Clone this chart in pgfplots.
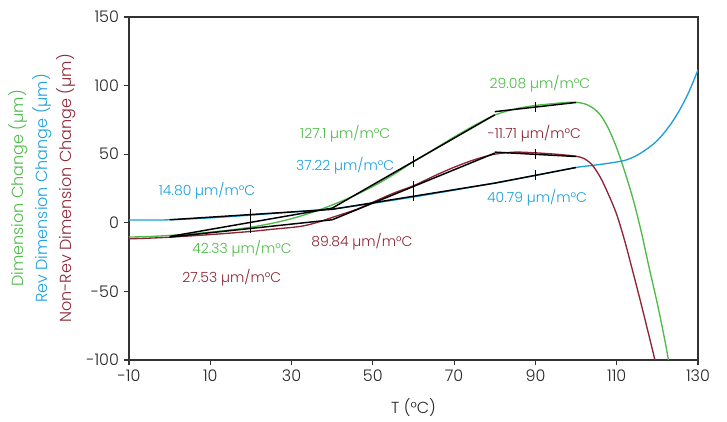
\documentclass[border=0pt]{standalone}
\usepackage{pgfplots}
\pgfplotsset{compat=1.18}
\usepackage{fontspec}
\setmainfont{Poppins}[UprightFont=* Light]
\definecolor{cgreen}{RGB}{78,186,72}
\definecolor{cblue}{RGB}{27,160,222}
\definecolor{cred}{RGB}{140,36,52}
\begin{document}
\begin{tikzpicture}
\begin{axis}[
 scale only axis, width=426.75pt, height=257.25pt,
 xmin=-10, xmax=130, ymin=-100, ymax=150,
 xtick={-10,10,...,130}, ytick={-100,-50,...,150},
 tick pos=left, tick align=outside, major tick length=4pt,
 axis line style={line width=1.1pt, draw=black!80},
 tick style={line width=0.8pt, black!80},
 ticklabel style={font=\fontsize{12}{12}\selectfont, text=black!85},
 /pgf/number format/assume math mode=true,
 xlabel={T (°C)},
 xlabel style={at={(axis description cs:0.5,-0.14)}, anchor=center, font=\fontsize{12}{12}\selectfont, text=black!85},
 ylabel={{\color{cgreen}Dimension Change (µm)}\\{\color{cblue}Rev Dimension Change (µm)}\\{\color{cred}Non-Rev Dimension Change (µm)}},
 ylabel style={at={(axis description cs:-0.1529,0.5)}, anchor=center, align=center, font=\fontsize{12}{18}\selectfont},
 every axis plot/.append style={line width=1pt},
]
% Green: Dimension Change
\addplot[cgreen, smooth] coordinates {
(-10,-10.4)(-5,-10)(0,-9.2)(5,-8.2)(10,-6.8)(15,-5.2)(20,-3.2)(25,-0.5)(30,3)(35,7.5)(40,13)
(45,19.2)(50,26.5)(55,35)(60,44.5)(65,53.5)(70,62.5)(75,71)(80,78.5)(85,83)(90,85.5)(95,87)
(98,87.8)(100,87.8)(102,86.8)(104,84)(106,78.5)(108,68.5)(110,54.5)(112,37)(114,17.5)
(116,-6)(118,-33)(120,-59)(122,-88)(123,-105)};
% Blue: Rev Dimension Change
\addplot[cblue, smooth] coordinates {
(-10,2)(-5,2)(0,2.2)(10,3.6)(20,5.6)(30,7.8)(40,10.2)(45,12)(50,14.2)(60,18.8)(70,23.8)(80,29)
(90,34.5)(100,40.3)(104,41.8)(108,43.4)(112,45.5)(115,49.2)(118,55)(120,60)(122,66.8)
(124,75)(126,85)(128,97)(130,111.5)};
% Red: Non-Rev Dimension Change
\addplot[cred, smooth] coordinates {
(-10,-11.7)(-5,-11.2)(0,-10.5)(10,-8.6)(20,-6.3)(25,-4.8)(32,-2.7)(36,0)(40,3.9)(46,9.8)
(50,15)(55,21.5)(60,27)(65,34)(70,40.5)(75,46)(80,50)(85,51.5)(90,51)(95,50)(98,49.2)(100,48.5)
(102,46.8)(104,42)(106,33)(108,20.5)(110,6)(112,-13.5)(114,-36)(116,-59)(118,-83)(119.4,-100)(120,-108)};
% Tangent lines
\addplot[black, line width=1.1pt] coordinates {(0,-10)(40,10.7)};
\addplot[black, line width=1.1pt] coordinates {(40,10.7)(80,78.7)};
\addplot[black, line width=1.1pt] coordinates {(80,81)(100,87.7)};
\addplot[black, line width=1.1pt] coordinates {(0,-10.4)(40,2.2)};
\addplot[black, line width=1.1pt] coordinates {(40,2.2)(80,50.8)};
\addplot[black, line width=1.1pt] coordinates {(80,51.5)(100,48.3)};
\addplot[black, line width=1.1pt] coordinates {(0,2.2)(40,9.8)};
\addplot[black, line width=1.1pt] coordinates {(40,9.8)(80,28.9)};
\addplot[black, line width=1.1pt] coordinates {(80,28.9)(100,40.3)};
% tick crosses on tangents
\addplot[only marks, mark=|, mark size=3.8pt, mark options={black, line width=0.7pt}] coordinates {
(20,0.35)(60,44.7)(90,84.35)(20,-4.1)(60,26.5)(90,49.9)(20,6)(60,19.35)(90,34.6)};
% annotations
\node[text=cgreen, font=\fontsize{10.5}{12}\selectfont] at (axis cs:91.1,101.3) {29.08 µm/m°C};
\node[text=cgreen, font=\fontsize{10.5}{12}\selectfont] at (axis cs:43.2,64.9) {127.1 µm/m°C};
\node[text=cred, font=\fontsize{10.5}{12}\selectfont] at (axis cs:89.7,64.9) {-11.71 µm/m°C};
\node[text=cblue, font=\fontsize{10.5}{12}\selectfont] at (axis cs:43.2,41.5) {37.22 µm/m°C};
\node[text=cblue, font=\fontsize{10.5}{12}\selectfont] at (axis cs:9.2,23.3) {14.80 µm/m°C};
\node[text=cblue, font=\fontsize{10.5}{12}\selectfont] at (axis cs:90.4,18.2) {40.79 µm/m°C};
\node[text=cgreen, font=\fontsize{10.5}{12}\selectfont] at (axis cs:17.8,-19) {42.33 µm/m°C};
\node[text=cred, font=\fontsize{10.5}{12}\selectfont] at (axis cs:47.3,-13.8) {89.84 µm/m°C};
\node[text=cred, font=\fontsize{10.5}{12}\selectfont] at (axis cs:15.3,-40) {27.53 µm/m°C};
\end{axis}
\path ([shift={(-96.75pt,-45pt)}]current axis.south west) rectangle ([shift={(21.75pt,12.75pt)}]current axis.north east);
\end{tikzpicture}
\end{document}
